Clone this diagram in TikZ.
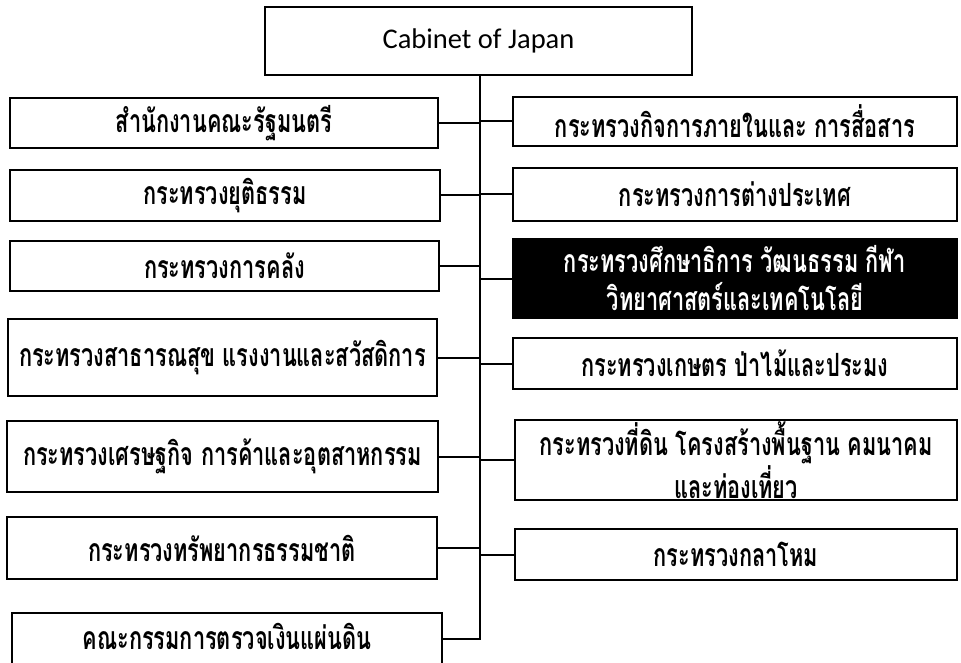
\documentclass[tikz,border=0pt]{standalone}
\usepackage{fontspec}
\setmainfont{Carlito}
\newfontfamily\thaifont[Script=Thai,FakeStretch=0.68]{Loma}
\begin{document}
\begin{tikzpicture}[x=1pt,y=-1pt,
  thaitext/.style={font=\thaifont\bfseries\fontsize{32}{38}\selectfont, align=center, inner sep=0pt},
  box/.style={thaitext, draw=black, line width=2.6pt, fill=white},
  darkbox/.style={box, fill=black, text=white},
  topbox/.style={draw=black, line width=2.6pt, fill=white, inner sep=0pt,
    font=\fontsize{28.5}{32}\selectfont},
  link/.style={draw=black, line width=2pt},
  trunk/.style={draw=black, line width=2.6pt}]
\clip (0,0) rectangle (961,663);
\fill[white] (0,0) rectangle (961,663);
% top
\node[topbox, minimum width=427pt, minimum height=68pt] (cab) at (478.5,41) {Cabinet of Japan};
% left column
\node[box, minimum width=428pt, minimum height=50pt] (L1) at (224,123) {สำนักงานคณะรัฐมนตรี};
\node[box, minimum width=430pt, minimum height=51pt] (L2) at (225,195.5) {กระทรวงยุติธรรม};
\node[box, minimum width=429pt, minimum height=50pt] (L3) at (224.5,266) {กระทรวงการคลัง};
\node[box, minimum width=429pt, minimum height=77pt] (L4) at (222.5,357.5) {กระทรวงสาธารณสุข แรงงานและสวัสดิการ};
\node[box, minimum width=431pt, minimum height=71pt] (L5) at (222.5,456.5) {กระทรวงเศรษฐกิจ การค้าและอุตสาหกรรม};
\node[box, minimum width=430pt, minimum height=62pt] (L6) at (222,548) {กระทรวงทรัพยากรธรรมชาติ};
\node[box, minimum width=430pt, minimum height=56pt] (L7) at (227,641) {};
\node[thaitext] (L7t) at (227,636) {คณะกรรมการตรวจเงินแผ่นดิน};
% right column
\node[box, minimum width=444pt, minimum height=49pt] (R1) at (735,121.5) {กระทรวงกิจการภายในและ การสื่อสาร};
\node[box, minimum width=444pt, minimum height=53pt] (R2) at (735,194.5) {กระทรวงการต่างประเทศ};
\node[darkbox, minimum width=444pt, minimum height=79pt] (R3) at (735,278.5) {กระทรวงศึกษาธิการ วัฒนธรรม กีฬา\\วิทยาศาสตร์และเทคโนโลยี};
\node[box, minimum width=444pt, minimum height=51pt] (R4) at (735,363.5) {กระทรวงเกษตร ป่าไม้และประมง};
\node[box, minimum width=442pt, minimum height=80pt] (R5) at (736,460) {กระทรวงที่ดิน โครงสร้างพื้นฐาน คมนาคม\\และท่องเที่ยว};
\node[box, minimum width=442pt, minimum height=51pt] (R6) at (736,554.5) {กระทรวงกลาโหม};
% trunk
\coordinate (tb) at (480,639);
\draw[trunk] (cab.south -| tb) -- (tb) -- (tb -| L7.east);
\foreach \n in {L1,L2,L3,L4,L5,L6}{\draw[link] (\n.east) -- (\n.east -| tb);}
\foreach \n in {R1,R2,R3,R4,R5,R6}{\draw[link] (\n.west) -- (\n.west -| tb);}
\end{tikzpicture}
\end{document}
